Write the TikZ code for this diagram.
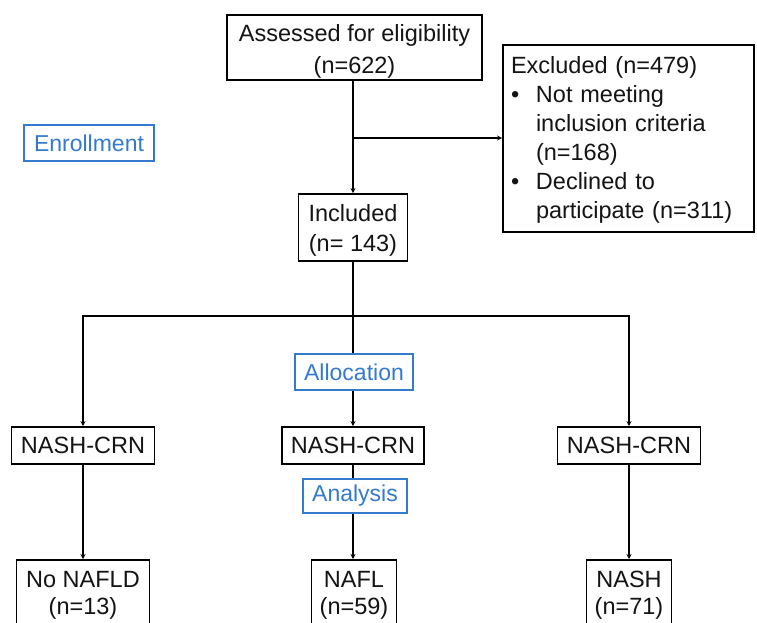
\documentclass[tikz,border=0pt]{standalone}
\usepackage{fontspec}
\setmainfont{Liberation Sans}
\usetikzlibrary{arrows.meta}
\definecolor{stageblue}{RGB}{52,122,206}
\newcommand{\dropline}[1]{\rule{0pt}{#1}}
\begin{document}
\begin{tikzpicture}[x=1pt,y=-1pt,
  box/.style={draw=black, line width=1.8pt, fill=white, inner sep=0pt, align=center,
    font=\fontsize{23.5}{30}\selectfont, text=black!92},
  stagebox/.style={draw=stageblue, line width=1.4pt, fill=white, inner sep=0pt,
    font=\fontsize{23}{28}\selectfont, text=stageblue},
  arr/.style={line width=1.8pt, -{Stealth[length=5pt,width=5pt]}},
  ln/.style={line width=1.8pt}]
\useasboundingbox (0,0) rectangle (757,623);
% boxes
\node[box, minimum width=255pt, minimum height=65pt, font=\fontsize{23.5}{32}\selectfont] (ass) at (354.5,47.5) {\dropline{24pt}Assessed for eligibility\\(n=622)};
\node[box, minimum width=251pt, minimum height=187pt, text width=235pt, align=left, inner xsep=8pt, font=\fontsize{23.5}{29}\selectfont] (exc) at (628.5,138.5)
  {\raisebox{-2pt}[\height][\depth]{\begin{tabular}{@{}l@{}l@{}}\multicolumn{2}{@{}l@{}}{Excluded (n=479)}\\
   \makebox[25pt][l]{\textbullet} & Not meeting\\
   & inclusion criteria\\
   & (n=168)\\
   \makebox[25pt][l]{\textbullet} & Declined to\\
   & participate (n=311)\end{tabular}}};
\node[stagebox, minimum width=130pt, minimum height=36pt] (enr) at (89,143) {Enrollment};
\node[box, minimum width=109pt, minimum height=67pt] (inc) at (353,227.5) {\dropline{22pt}Included\\(n= 143)};
\node[box, minimum width=143pt, minimum height=37pt] (c1) at (83,445.5) {NASH-CRN};
\node[box, minimum width=142pt, minimum height=37pt] (c2) at (353,445.5) {NASH-CRN};
\node[box, minimum width=143pt, minimum height=37pt] (c3) at (629,445.5) {NASH-CRN};
\node[box, minimum width=133pt, minimum height=67pt, anchor=north, font=\fontsize{23.5}{27}\selectfont] (o1) at (83,559) {\dropline{21pt}No NAFLD\\(n=13)};
\node[box, minimum width=85pt, minimum height=67pt, anchor=north, font=\fontsize{23.5}{27}\selectfont] (o2) at (354,559) {\dropline{21pt}NAFL\\(n=59)};
\node[box, minimum width=85pt, minimum height=67pt, anchor=north, font=\fontsize{23.5}{27}\selectfont] (o3) at (629,559) {\dropline{21pt}NASH\\(n=71)};
% connectors
\coordinate (j1) at (353,138);
\coordinate (hub) at (353,316);
\draw[arr] (ass.south -| inc.north) -- (inc.north);
\draw[arr] (j1) -- (j1 -| exc.west);
\draw[ln] (inc.south) -- (hub);
\draw[arr] (hub) -- (c2.north);
\draw[arr] (hub) -| (c1.north);
\draw[arr] (hub) -| (c3.north);
\draw[arr] (c1.south) -- (c1.south |- o1.north);
\draw[arr] (c2.south) -- (c2.south |- o2.north);
\draw[arr] (c3.south) -- (c3.south |- o3.north);
% stage labels over the lines
\node[stagebox, minimum width=118pt, minimum height=36pt] (alloc) at (354,372) {Allocation};
\node[stagebox, minimum width=104pt, minimum height=34pt] (ana) at (355,496) {Analysis};
\end{tikzpicture}
\end{document}
